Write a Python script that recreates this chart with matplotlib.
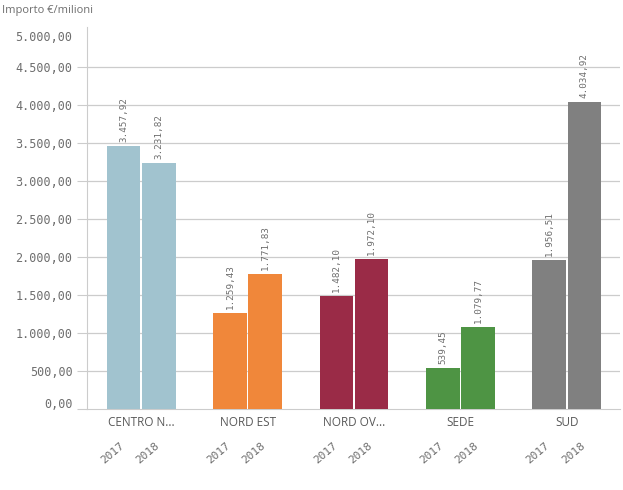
import matplotlib
matplotlib.use("Agg")
import matplotlib.pyplot as plt
import matplotlib.transforms as mtrans
import numpy as np

# data
categories = ['CENTRO N...', 'NORD EST', 'NORD OV...', 'SEDE', 'SUD']
years = ['2017', '2018']
values_2017 = [3457.92, 1259.43, 1482.10, 539.45, 1956.51]
values_2018 = [3231.82, 1771.83, 1972.10, 1079.77, 4034.92]
colors = ['#a1c3cf', '#f0873a', '#9a2b47', '#4e9444', '#808080']
yticks = [0, 500, 1000, 1500, 2000, 2500, 3000, 3500, 4000, 4500, 5000]


def fmt_it(v):
    s = f"{v:,.2f}"
    return s.replace(',', 'X').replace('.', ',').replace('X', '.')


num_font = 'DejaVu Sans Mono'
txt_color = '#6e6e6e'
grid_color = '#cccccc'

fig = plt.figure(figsize=(6.23, 4.90), dpi=100)
ax = fig.add_axes([87 / 623, 1 - 409 / 490, (620 - 87) / 623, (409 - 27) / 490])

x = np.arange(len(categories))
w = 0.315
off = 0.165
for vals, dx in ((values_2017, -off), (values_2018, off)):
    ax.bar(x + dx, vals, width=w, color=colors, zorder=3)
    for xi, v in zip(x + dx, vals):
        ax.annotate(fmt_it(v), (xi, v), xytext=(0, 3), textcoords='offset points',
                    rotation=90, ha='center', va='bottom', fontsize=6.7,
                    family=num_font, color=txt_color)

ax.set_xlim(-0.51, 4.5)
ax.set_ylim(0, 5026)

# y axis
ax.set_yticks(yticks)
ax.set_yticklabels([fmt_it(t) for t in yticks], family=num_font, fontsize=8.5,
                   color=txt_color)
ax.tick_params(axis='y', length=7, color=grid_color, pad=3.5)
labels = ax.get_yticklabels()
labels[0].set_transform(labels[0].get_transform() +
                        mtrans.ScaledTranslation(0, 6 / 100, fig.dpi_scale_trans))
labels[-1].set_transform(labels[-1].get_transform() +
                         mtrans.ScaledTranslation(0, -7 / 100, fig.dpi_scale_trans))
ax.yaxis.get_major_ticks()[-1].tick1line.set_visible(False)
for t in yticks[1:-1]:
    ax.axhline(t, color=grid_color, linewidth=0.9, zorder=1)

# x axis
ax.set_xticks(x)
ax.set_xticklabels(categories, fontsize=8.5, color='#595959', family='Open Sans')
ax.tick_params(axis='x', length=0, pad=5)
for xi in x:
    for dx, yr in ((-off, years[0]), (off, years[1])):
        ax.annotate(yr, (xi + dx, 0), xycoords=('data', 'axes fraction'),
                    xytext=(-3, -23), textcoords='offset points', rotation=40,
                    ha='right', va='top', rotation_mode='anchor', fontsize=8,
                    family=num_font, color=txt_color)

for s in ('top', 'right'):
    ax.spines[s].set_visible(False)
ax.spines['left'].set_color(grid_color)
ax.spines['bottom'].set_color(grid_color)

fig.text(2 / 623, 1 - 10 / 490, 'Importo \u20ac/milioni', fontsize=8,
         color='#6e6e6e', family='Open Sans', va='center', ha='left')

fig.savefig('out.png', dpi=100)
